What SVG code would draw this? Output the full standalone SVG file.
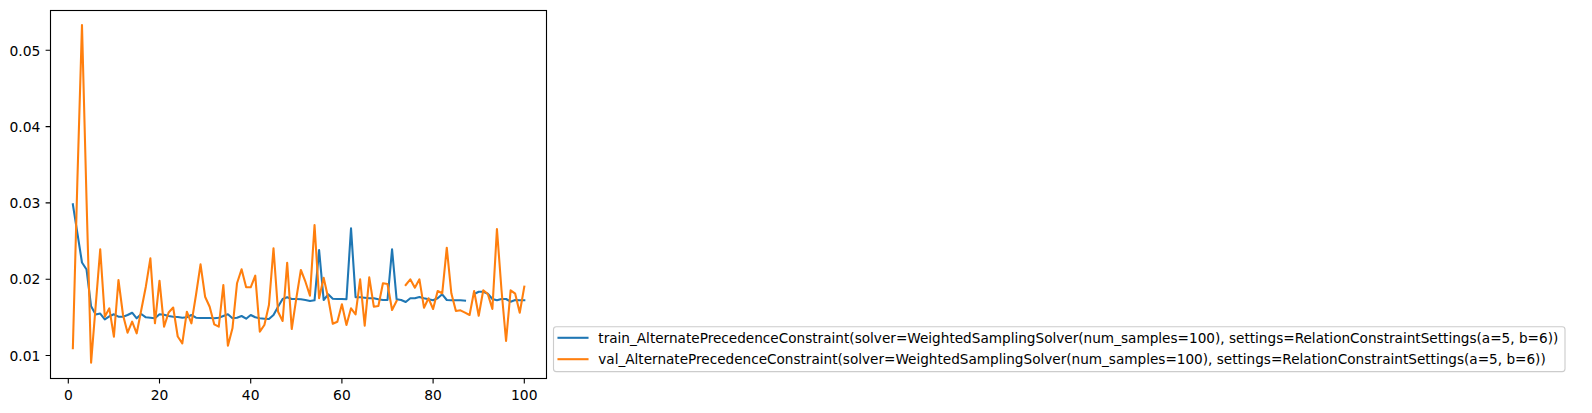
<svg xmlns="http://www.w3.org/2000/svg" width="1592" height="413" viewBox="0 0 1592 413">
<style>
text{font-family:"DejaVu Sans","Liberation Sans",sans-serif;font-size:13.89px;fill:#000}
.tk{stroke:#000;stroke-width:1.11}
.ln{fill:none;stroke-width:2.08;stroke-linejoin:round;stroke-linecap:square}
.b{stroke:#1f77b4}
.o{stroke:#ff7f0e}
</style>
<rect width="1592" height="413" fill="#fff"/>
<g id="axes">
<g id="yticks">
<path class="tk" d="M50.5 355.5h-4.9M50.5 279.2h-4.9M50.5 202.9h-4.9M50.5 126.6h-4.9M50.5 50.3h-4.9"/>
<g text-anchor="end">
<text x="40.3" y="360.7">0.01</text>
<text x="40.3" y="284.4">0.02</text>
<text x="40.3" y="208.1">0.03</text>
<text x="40.3" y="131.8">0.04</text>
<text x="40.3" y="55.5">0.05</text>
</g>
</g>
<g id="xticks">
<path class="tk" d="M68.3 378.5v4.9M159.5 378.5v4.9M250.7 378.5v4.9M341.9 378.5v4.9M433.1 378.5v4.9M524.3 378.5v4.9"/>
<g text-anchor="middle">
<text x="68.3" y="399.8">0</text>
<text x="159.5" y="399.8">20</text>
<text x="250.7" y="399.8">40</text>
<text x="341.9" y="399.8">60</text>
<text x="433.1" y="399.8">80</text>
<text x="524.3" y="399.8">100</text>
</g>
</g>
</g>
<g id="series">
<polyline id="train1" class="ln b" points="72.86,204.3 77.42,233.3 81.98,262.5 86.54,269.5 91.1,306.3 95.66,314.6 100.22,313.6 104.78,319.3 109.34,316.3 113.9,314.3 118.46,316.7 123.02,316.7 127.58,315 132.14,312.7 136.7,318.3 141.26,314 145.82,317.3 150.38,317.7 154.94,318.3 159.5,314.3 164.06,314.7 168.62,316 173.18,316.7 177.74,317 182.3,317.7 186.86,317.3 191.42,315 195.98,317.7 200.54,318 205.1,318 209.66,318 214.22,318.3 218.78,317.7 223.34,316 227.9,314.3 232.46,318.3 237.02,317.7 241.58,316 246.14,318.7 250.7,315 255.26,317.3 259.82,318.3 264.38,318.7 268.94,319 273.5,315 278.06,306.7 282.62,299 287.18,297.3 291.74,299 296.3,299 300.86,299.3 305.42,300 309.98,301 314.54,300.3 319.1,250 323.66,300 328.22,294.3 332.78,298.7 337.34,299 341.9,299 346.46,299.3 351.02,228.3 355.58,297.3 360.14,297.3 364.7,297.7 369.26,298.3 373.82,298.3 378.38,299.3 382.94,300 387.5,300 392.06,249.3 396.62,299.3 401.18,300 405.74,302 410.3,298.3 414.86,298.3 419.42,297 423.98,298.3 428.54,299.3 433.1,300.3 437.66,298.3 442.22,294.3 446.78,300 451.34,300.3 455.9,300.3 460.46,300.3 465.02,300.7"/>
<polyline id="train2" class="ln b" points="474.14,294 478.7,291.7 483.26,291.7 487.82,293.7 492.38,299 496.94,300.3 501.5,299 506.06,299 510.62,301.7 515.18,300 519.74,300.3 524.3,300.3"/>
<polyline id="val1" class="ln o" points="72.86,348.3 77.42,179 81.98,25 86.54,200 91.1,362.7 95.66,306 100.22,249.3 104.78,316.7 109.34,308.3 113.9,336.7 118.46,280 123.02,315 127.58,332.7 132.14,321.7 136.7,333.3 141.26,310 145.82,286.7 150.38,258.3 154.94,323.3 159.5,280.7 164.06,326.7 168.62,312.5 173.18,307.5 177.74,336.5 182.3,343.3 186.86,311.7 191.42,323.3 195.98,295 200.54,264.3 205.1,296.7 209.66,306.7 214.22,324.3 218.78,326.7 223.34,285 227.9,345.7 232.46,328.3 237.02,283.3 241.58,269.3 246.14,287.3 250.7,287.3 255.26,275.7 259.82,331.7 264.38,325 268.94,305 273.5,248.3 278.06,311.7 282.62,321 287.18,262.7 291.74,329 296.3,298.3 300.86,270 305.42,281.7 309.98,295.7 314.54,225 319.1,298.3 323.66,277.7 328.22,298.3 332.78,323.7 337.34,321.7 341.9,304.3 346.46,325 351.02,308.3 355.58,314.3 360.14,279.3 364.7,325.7 369.26,277.3 373.82,306.7 378.38,306 382.94,283.3 387.5,284 392.06,310 396.62,301"/>
<polyline id="val2" class="ln o" points="405.74,285 410.3,279.3 414.86,287.7 419.42,279.3 423.98,307.7 428.54,298.3 433.1,309 437.66,291 442.22,293.3 446.78,247.7 451.34,293.3 455.9,311 460.46,310.3 465.02,312.7 469.58,315 474.14,291 478.7,315.7 483.26,290.3 487.82,294 492.38,309 496.94,229 501.5,290 506.06,341 510.62,290.3 515.18,293.7 519.74,312.7 524.3,286.7"/>
</g>
<rect id="frame" x="50.5" y="10.5" width="496" height="368" fill="none" stroke="#000" stroke-width="1.11"/>
<g id="legend">
<rect x="553.5" y="326.8" width="1011.5" height="44.8" rx="2.8" fill="#fff" fill-opacity="0.8" stroke="#cccccc" stroke-width="1.11"/>
<path class="ln b" d="M558.5 337.8h29"/>
<path class="ln o" d="M558.5 359.2h29"/>
<text x="598.3" y="342.8" textLength="960" lengthAdjust="spacingAndGlyphs">train_AlternatePrecedenceConstraint(solver=WeightedSamplingSolver(num_samples=100), settings=RelationConstraintSettings(a=5, b=6))</text>
<text x="598.3" y="364.2" textLength="947.4" lengthAdjust="spacingAndGlyphs">val_AlternatePrecedenceConstraint(solver=WeightedSamplingSolver(num_samples=100), settings=RelationConstraintSettings(a=5, b=6))</text>
</g>
</svg>
